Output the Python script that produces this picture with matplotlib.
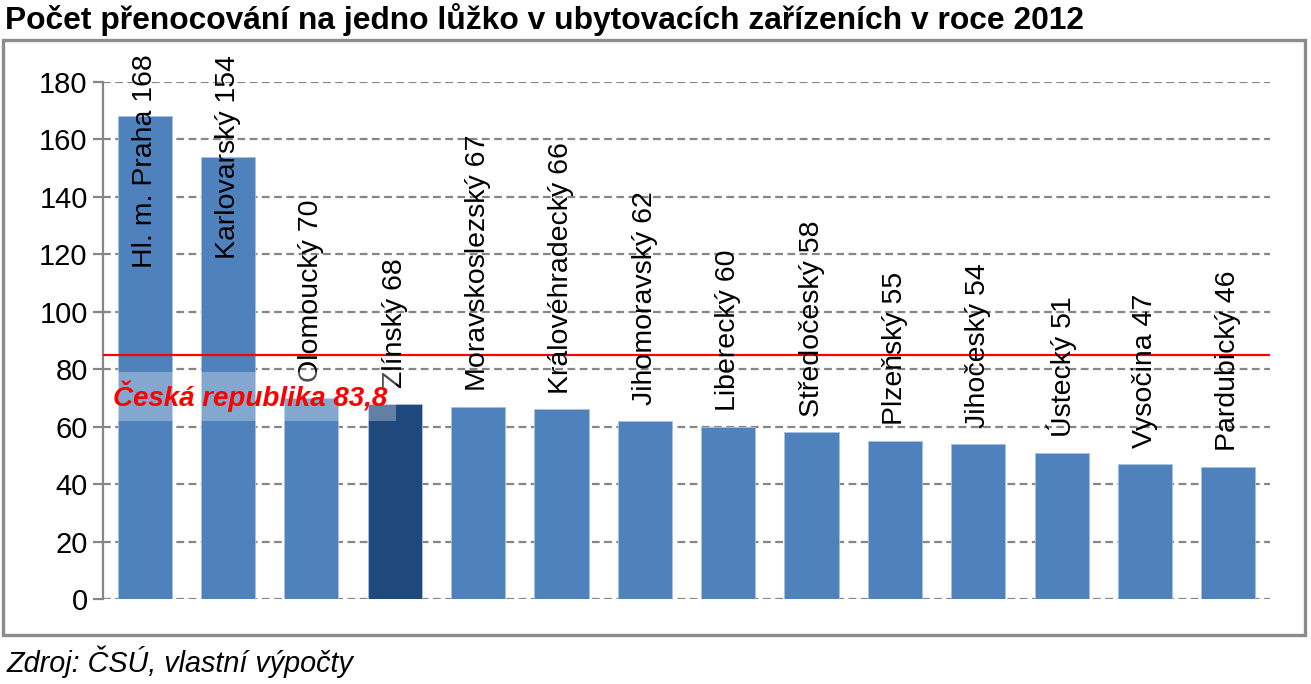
import matplotlib
matplotlib.use("Agg")
import matplotlib.pyplot as plt
from matplotlib.patches import Rectangle

plt.rcParams['font.family'] = ['Liberation Sans', 'DejaVu Sans']

title = "Počet přenocování na jedno lůžko v ubytovacích zařízeních v roce 2012"
source = "Zdroj: ČSÚ, vlastní výpočty"
cats = ["Hl. m. Praha", "Karlovarský", "Olomoucký", "Zlínský", "Moravskoslezský",
        "Královéhradecký", "Jihomoravský", "Liberecký", "Středočeský", "Plzeňský",
        "Jihočeský", "Ústecký", "Vysočina", "Pardubický"]
vals = [168, 154, 70, 68, 67, 66, 62, 60, 58, 55, 54, 51, 47, 46]
highlight = "Zlínský"
cr_value_label = "Česká republika 83,8"
cr_line = 84.9
yticks = list(range(0, 181, 20))

W, H = 1311, 684
fig = plt.figure(figsize=(W / 100, H / 100), dpi=100)

# outer border
fig.patches.append(Rectangle((3 / W, 1 - 635 / H), 1302 / W, 595 / H,
                             transform=fig.transFigure, fill=False,
                             edgecolor='#8c8c8c', linewidth=2.4, zorder=0))

fig.text(5 / W, 1 - 20 / H, title, fontsize=22.9, fontweight='bold',
         va='center', ha='left')
fig.text(7 / W, 1 - 662 / H, source, fontsize=20.7, style='italic',
         va='center', ha='left')

ax = fig.add_axes([103 / W, 1 - 599 / H, 1167 / W, 517 / H])
n = len(cats)
x = list(range(n))
colors = ['#1F497D' if c == highlight else '#4F81BD' for c in cats]
ax.bar(x, vals, width=0.65, color=colors, edgecolor='#a9c0df', linewidth=0.6,
       zorder=2)
ax.set_xlim(-0.5, n - 0.5)
ax.set_ylim(0, 180)
ax.set_yticks(yticks)
ax.set_xticks([])
ax.grid(axis='y', color='#868686', linestyle=(0, (3.5, 2.0)), linewidth=1.6,
        zorder=1)
for s in ['top', 'right', 'bottom']:
    ax.spines[s].set_visible(False)
ax.spines['left'].set_color('#868686')
ax.spines['left'].set_linewidth(1.6)
ax.tick_params(axis='y', length=7, width=1.6, color='#868686', labelsize=21,
               pad=4)

ax.axhline(cr_line, color='#FF0000', linewidth=1.6, zorder=4)

for xi, v, c in zip(x, vals, cats):
    txt = f"{c} {v}"
    if v > 150:
        ax.text(xi, 189.5, txt, rotation=90, ha='center', va='top',
                fontsize=20.5, zorder=5, clip_on=False)
    else:
        ax.text(xi, v + 5.5, txt, rotation=90, ha='center', va='bottom',
                fontsize=20.5, zorder=5)

ax.text(-0.38, 70.5, cr_value_label, color='#FF0000', fontsize=20,
        fontweight='bold', style='italic', va='center', ha='left', zorder=6,
        bbox=dict(boxstyle='square,pad=0.3', facecolor='white', alpha=0.3,
                  edgecolor='none'))

fig.savefig("out.png", dpi=100)
